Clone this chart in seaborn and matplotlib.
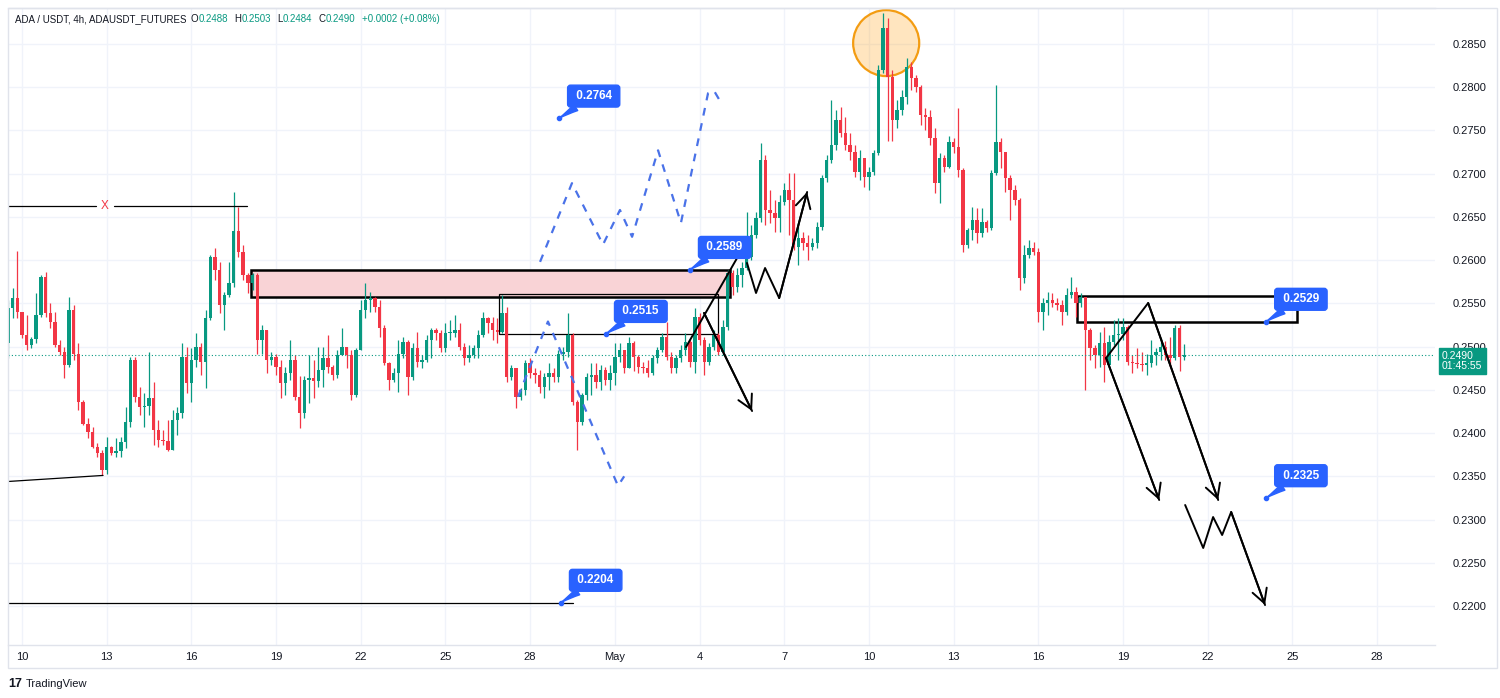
import numpy as np
import pandas as pd
import seaborn as sns
from matplotlib import pyplot as plt
from matplotlib.patches import Rectangle, Ellipse

sns.set_theme(style="white")
plt.rcParams["font.family"] = ["Liberation Sans", "DejaVu Sans"]

UP = "#089981"
DOWN = "#f23645"
BLUE = "#2962ff"
DASH_BLUE = "#4a72e8"
INK = "#131722"
GRID = "#f0f3fa"

# ADA/USDT 4h candles, Apr 9 12:00 -> May 21 00:00 (open = previous close)
first_open = 0.2504
close = [
    0.2545, 0.2556, 0.2540, 0.2513, 0.2502, 0.2509, 0.2536, 0.2580, 0.2539, 0.2528,
    0.2502, 0.2494, 0.2479, 0.2542, 0.2492, 0.2436, 0.2411, 0.2401, 0.2384, 0.2377,
    0.2357, 0.2384, 0.2377, 0.2379, 0.2390, 0.2413, 0.2484, 0.2442, 0.2430, 0.2431,
    0.2440, 0.2403, 0.2392, 0.2391, 0.2380, 0.2415, 0.2423, 0.2488, 0.2458, 0.2484,
    0.2499, 0.2482, 0.2533, 0.2604, 0.2589, 0.2548, 0.2560, 0.2573, 0.2634, 0.2609,
    0.2583, 0.2573, 0.2583, 0.2508, 0.2519, 0.2484, 0.2488, 0.2476, 0.2458, 0.2470,
    0.2484, 0.2442, 0.2423, 0.2461, 0.2464, 0.2460, 0.2473, 0.2487, 0.2476, 0.2467,
    0.2490, 0.2499, 0.2490, 0.2444, 0.2496, 0.2542, 0.2554, 0.2556, 0.2546, 0.2521,
    0.2481, 0.2461, 0.2470, 0.2492, 0.2505, 0.2465, 0.2498, 0.2482, 0.2484, 0.2508,
    0.2519, 0.2516, 0.2498, 0.2516, 0.2516, 0.2519, 0.2499, 0.2487, 0.2490, 0.2498,
    0.2513, 0.2533, 0.2527, 0.2519, 0.2517, 0.2539, 0.2465, 0.2475, 0.2442, 0.2450,
    0.2481, 0.2470, 0.2467, 0.2453, 0.2465, 0.2470, 0.2465, 0.2492, 0.2494, 0.2513,
    0.2436, 0.2413, 0.2444, 0.2465, 0.2467, 0.2459, 0.2473, 0.2461, 0.2470, 0.2488,
    0.2496, 0.2475, 0.2504, 0.2488, 0.2476, 0.2475, 0.2470, 0.2487, 0.2496, 0.2511,
    0.2488, 0.2475, 0.2487, 0.2496, 0.2505, 0.2482, 0.2534, 0.2508, 0.2482, 0.2499,
    0.2513, 0.2494, 0.2523, 0.2585, 0.2569, 0.2583, 0.2591, 0.2604, 0.2629, 0.2649,
    0.2716, 0.2658, 0.2654, 0.2649, 0.2667, 0.2681, 0.2669, 0.2615, 0.2626, 0.2620,
    0.2615, 0.2620, 0.2638, 0.2695, 0.2716, 0.2733, 0.2762, 0.2747, 0.2733, 0.2725,
    0.2702, 0.2718, 0.2696, 0.2702, 0.2724, 0.2820, 0.2868, 0.2812, 0.2762, 0.2774,
    0.2789, 0.2823, 0.2811, 0.2800, 0.2768, 0.2766, 0.2741, 0.2689, 0.2718, 0.2708,
    0.2737, 0.2731, 0.2704, 0.2617, 0.2635, 0.2646, 0.2631, 0.2644, 0.2637, 0.2701,
    0.2737, 0.2725, 0.2695, 0.2681, 0.2669, 0.2579, 0.2606, 0.2614, 0.2609, 0.2540,
    0.2550, 0.2554, 0.2551, 0.2548, 0.2540, 0.2560, 0.2563, 0.2550, 0.2557, 0.2519,
    0.2498, 0.2490, 0.2504, 0.2479, 0.2505, 0.2513, 0.2514, 0.2523, 0.2482, 0.2481,
    0.2480, 0.2479, 0.2481, 0.2490, 0.2494, 0.2499, 0.2490, 0.2487, 0.2521, 0.2488,
    0.2490,
]
high = [
    0.2554, 0.2568, 0.2610, 0.2540, 0.2536, 0.2511, 0.2562, 0.2583, 0.2586, 0.2550,
    0.2540, 0.2508, 0.2499, 0.2557, 0.2548, 0.2504, 0.2438, 0.2417, 0.2407, 0.2388,
    0.2380, 0.2395, 0.2385, 0.2394, 0.2395, 0.2430, 0.2488, 0.2488, 0.2453, 0.2446,
    0.2494, 0.2459, 0.2415, 0.2403, 0.2415, 0.2427, 0.2430, 0.2504, 0.2499, 0.2498,
    0.2516, 0.2504, 0.2542, 0.2606, 0.2614, 0.2598, 0.2563, 0.2598, 0.2679, 0.2661,
    0.2617, 0.2585, 0.2585, 0.2585, 0.2525, 0.2519, 0.2494, 0.2492, 0.2484, 0.2476,
    0.2508, 0.2490, 0.2466, 0.2466, 0.2490, 0.2484, 0.2499, 0.2499, 0.2513, 0.2479,
    0.2496, 0.2521, 0.2499, 0.2496, 0.2498, 0.2554, 0.2573, 0.2563, 0.2557, 0.2554,
    0.2525, 0.2482, 0.2475, 0.2508, 0.2511, 0.2508, 0.2504, 0.2517, 0.2490, 0.2513,
    0.2521, 0.2521, 0.2519, 0.2527, 0.2531, 0.2536, 0.2527, 0.2504, 0.2502, 0.2502,
    0.2519, 0.2540, 0.2534, 0.2534, 0.2533, 0.2560, 0.2546, 0.2479, 0.2475, 0.2452,
    0.2484, 0.2487, 0.2475, 0.2473, 0.2470, 0.2481, 0.2475, 0.2496, 0.2499, 0.2539,
    0.2516, 0.2438, 0.2446, 0.2469, 0.2481, 0.2481, 0.2479, 0.2476, 0.2479, 0.2504,
    0.2504, 0.2494, 0.2511, 0.2506, 0.2490, 0.2482, 0.2484, 0.2490, 0.2499, 0.2516,
    0.2528, 0.2494, 0.2490, 0.2502, 0.2516, 0.2508, 0.2545, 0.2539, 0.2511, 0.2504,
    0.2519, 0.2516, 0.2531, 0.2589, 0.2589, 0.2591, 0.2598, 0.2656, 0.2641, 0.2656,
    0.2735, 0.2722, 0.2681, 0.2669, 0.2675, 0.2689, 0.2701, 0.2701, 0.2643, 0.2632,
    0.2629, 0.2626, 0.2644, 0.2698, 0.2722, 0.2785, 0.2774, 0.2777, 0.2766, 0.2747,
    0.2733, 0.2727, 0.2712, 0.2708, 0.2727, 0.2826, 0.2886, 0.2880, 0.2820, 0.2785,
    0.2797, 0.2834, 0.2829, 0.2814, 0.2803, 0.2776, 0.2774, 0.2753, 0.2724, 0.2722,
    0.2744, 0.2741, 0.2776, 0.2707, 0.2637, 0.2661, 0.2660, 0.2660, 0.2646, 0.2704,
    0.2803, 0.2741, 0.2725, 0.2698, 0.2687, 0.2672, 0.2617, 0.2623, 0.2621, 0.2614,
    0.2556, 0.2563, 0.2562, 0.2556, 0.2554, 0.2568, 0.2580, 0.2569, 0.2562, 0.2557,
    0.2521, 0.2502, 0.2517, 0.2523, 0.2513, 0.2531, 0.2533, 0.2533, 0.2525, 0.2490,
    0.2498, 0.2494, 0.2492, 0.2508, 0.2498, 0.2510, 0.2506, 0.2511, 0.2525, 0.2525,
    0.2503,
]
low = [
    0.2487, 0.2533, 0.2533, 0.2510, 0.2496, 0.2498, 0.2504, 0.2534, 0.2534, 0.2521,
    0.2499, 0.2490, 0.2464, 0.2476, 0.2484, 0.2427, 0.2409, 0.2394, 0.2383, 0.2372,
    0.2351, 0.2353, 0.2375, 0.2372, 0.2372, 0.2383, 0.2407, 0.2436, 0.2421, 0.2407,
    0.2421, 0.2386, 0.2384, 0.2386, 0.2379, 0.2380, 0.2398, 0.2417, 0.2446, 0.2436,
    0.2476, 0.2467, 0.2452, 0.2531, 0.2577, 0.2539, 0.2519, 0.2557, 0.2569, 0.2604,
    0.2577, 0.2562, 0.2565, 0.2492, 0.2492, 0.2470, 0.2479, 0.2467, 0.2440, 0.2444,
    0.2461, 0.2438, 0.2406, 0.2417, 0.2435, 0.2440, 0.2453, 0.2453, 0.2469, 0.2461,
    0.2464, 0.2490, 0.2475, 0.2438, 0.2442, 0.2496, 0.2533, 0.2540, 0.2540, 0.2511,
    0.2479, 0.2450, 0.2459, 0.2447, 0.2487, 0.2444, 0.2461, 0.2476, 0.2475, 0.2482,
    0.2487, 0.2508, 0.2494, 0.2494, 0.2508, 0.2511, 0.2496, 0.2479, 0.2482, 0.2487,
    0.2487, 0.2511, 0.2516, 0.2508, 0.2504, 0.2516, 0.2459, 0.2461, 0.2429, 0.2438,
    0.2444, 0.2464, 0.2458, 0.2446, 0.2440, 0.2450, 0.2459, 0.2459, 0.2484, 0.2488,
    0.2432, 0.2380, 0.2409, 0.2438, 0.2444, 0.2452, 0.2450, 0.2456, 0.2450, 0.2456,
    0.2482, 0.2470, 0.2475, 0.2472, 0.2470, 0.2469, 0.2465, 0.2467, 0.2481, 0.2494,
    0.2484, 0.2470, 0.2470, 0.2482, 0.2490, 0.2476, 0.2470, 0.2502, 0.2467, 0.2479,
    0.2496, 0.2490, 0.2490, 0.2519, 0.2560, 0.2563, 0.2569, 0.2589, 0.2600, 0.2626,
    0.2644, 0.2641, 0.2643, 0.2632, 0.2632, 0.2664, 0.2629, 0.2612, 0.2594, 0.2612,
    0.2600, 0.2612, 0.2614, 0.2635, 0.2690, 0.2712, 0.2727, 0.2742, 0.2727, 0.2716,
    0.2696, 0.2693, 0.2685, 0.2681, 0.2698, 0.2722, 0.2817, 0.2738, 0.2738, 0.2753,
    0.2768, 0.2780, 0.2797, 0.2794, 0.2756, 0.2750, 0.2733, 0.2678, 0.2666, 0.2702,
    0.2707, 0.2724, 0.2696, 0.2609, 0.2614, 0.2623, 0.2620, 0.2627, 0.2632, 0.2635,
    0.2698, 0.2707, 0.2679, 0.2646, 0.2664, 0.2565, 0.2574, 0.2602, 0.2606, 0.2528,
    0.2519, 0.2537, 0.2546, 0.2542, 0.2525, 0.2537, 0.2556, 0.2534, 0.2546, 0.2450,
    0.2484, 0.2475, 0.2476, 0.2459, 0.2475, 0.2502, 0.2484, 0.2508, 0.2479, 0.2470,
    0.2475, 0.2472, 0.2467, 0.2476, 0.2479, 0.2484, 0.2484, 0.2476, 0.2484, 0.2472,
    0.2484,
]
last_price = 0.2490

# time axis
tick_dates = ["2025-04-10", "2025-04-13", "2025-04-16", "2025-04-19", "2025-04-22",
              "2025-04-25", "2025-04-28", "2025-05-01", "2025-05-04", "2025-05-07",
              "2025-05-10", "2025-05-13", "2025-05-16", "2025-05-19", "2025-05-22",
              "2025-05-25", "2025-05-28"]
tick_labels = ["10", "13", "16", "19", "22", "25", "28", "May", "4", "7",
               "10", "13", "16", "19", "22", "25", "28"]
price_ticks = [0.2200, 0.2250, 0.2300, 0.2350, 0.2400, 0.2450, 0.2500,
               0.2550, 0.2600, 0.2650, 0.2700, 0.2750, 0.2800, 0.2850]

# drawings (x in days after Apr 10, y in price)
x_level_days = [[-0.5, 2.62], [3.26, 7.97]]
x_level_price = 0.2663
x_mark_day = 2.94
low_line_days = [-0.5, 2.87]
low_line_prices = [0.2344, 0.2351]
level_2204_days = [-0.5, 19.52]
level_2204_price = 0.2204

pink_zone = (8.11, 25.08, 0.2557, 0.2589)
thin_box = (16.90, 24.65, 0.2515, 0.2561)
right_box = (37.37, 45.16, 0.2529, 0.25585)
peak_circle = (30.61, 0.2851, 2.34, 0.00763)

bull_path_days = [18.35, 19.48, 20.58, 21.18, 21.61, 22.53, 23.34, 24.30, 24.51, 24.69]
bull_path_prices = [0.2598, 0.2689, 0.2618, 0.2658, 0.2627, 0.2727, 0.2643, 0.2793, 0.2796, 0.2786]
bear_path_days = [17.57, 18.63, 21.11, 21.33]
bear_path_prices = [0.2442, 0.2529, 0.2339, 0.2350]

leg_up_days = [23.52, 25.33]
leg_up_prices = [0.24995, 0.26025]
arrow_down_mid_days = [24.16, 25.86]
arrow_down_mid_prices = [0.25389, 0.24255]
zigzag_mid_days = [25.68, 26.00, 26.32, 26.82, 27.81]
zigzag_mid_prices = [0.25967, 0.25620, 0.25909, 0.25562, 0.26788]
arrow_right_a_days = [38.40, 40.28]
arrow_right_a_prices = [0.24868, 0.23226]
arrow_right_b_days = [38.40, 39.89, 42.37]
arrow_right_b_prices = [0.24868, 0.25504, 0.23226]
zigzag_right_days = [41.20, 41.84, 42.19, 42.51, 42.83, 44.03]
zigzag_right_prices = [0.23168, 0.22671, 0.23029, 0.22821, 0.23087, 0.22011]

callout_labels = ["0.2764", "0.2589", "0.2515", "0.2529", "0.2325", "0.2204"]
callout_days = [19.02, 23.66, 20.69, 44.07, 44.07, 19.09]
callout_prices = [0.2764, 0.2589, 0.2515, 0.2529, 0.2325, 0.2204]

W, H = 1500, 698


def fpx(x, y):
    return x / W, 1 - y / H


fig = plt.figure(figsize=(W / 100, H / 100), dpi=100)
ax = fig.add_axes([8 / W, 53 / H, 1427 / W, 637 / H])

c = np.array(close)
o = np.r_[first_open, c[:-1]]
hi = np.array(high)
lo = np.array(low)
times = pd.date_range("2025-04-09 12:00", periods=len(c), freq="4h")
x = ((times - pd.Timestamp("2025-04-10")) / pd.Timedelta(days=1)).to_numpy()
colors = np.where(c >= o, UP, DOWN)

# zones behind candles
ax.add_patch(Rectangle((pink_zone[0], pink_zone[2]), pink_zone[1] - pink_zone[0],
                       pink_zone[3] - pink_zone[2], facecolor="#f9d3d6",
                       edgecolor="black", lw=1.8, zorder=2))
ax.add_patch(Rectangle((thin_box[0], thin_box[2]), thin_box[1] - thin_box[0],
                       thin_box[3] - thin_box[2], fill=False, edgecolor="black",
                       lw=0.9, zorder=2.5))
ax.add_patch(Rectangle((right_box[0], right_box[2]), right_box[1] - right_box[0],
                       right_box[3] - right_box[2], fill=False, edgecolor="black",
                       lw=1.8, zorder=2.5))
ax.add_patch(Ellipse((peak_circle[0], peak_circle[1]), peak_circle[2], peak_circle[3],
                     facecolor=(1.0, 0.6, 0.0, 0.25), edgecolor="#f39c12", lw=1.6,
                     zorder=2))

# candles
ax.vlines(x, lo, hi, colors=colors, lw=0.9, zorder=3)
body = np.maximum(np.abs(c - o), 0.00007)
ax.bar(x, body, bottom=np.minimum(o, c), width=0.12, color=colors, lw=0, zorder=4)

ax.axhline(last_price, color=UP, lw=0.8, ls=(0, (1, 2)), zorder=3)

# horizontal levels
for seg in x_level_days:
    ax.plot(seg, [x_level_price, x_level_price], color="black", lw=0.9, zorder=5)
ax.text(x_mark_day, x_level_price, "X", color=DOWN, fontsize=8.5, ha="center",
        va="center", zorder=6)
ax.plot(low_line_days, low_line_prices, color="black", lw=0.9, zorder=5)
ax.plot(level_2204_days, [level_2204_price] * 2, color="black", lw=0.9, zorder=5)

# projected paths
for dx, dy in [(bull_path_days, bull_path_prices), (bear_path_days, bear_path_prices)]:
    sns.lineplot(x=dx, y=dy, sort=False, estimator=None, ax=ax, color=DASH_BLUE,
                 lw=1.6, linestyle=(0, (3.5, 3.5)), zorder=5)

for dx, dy in [(leg_up_days, leg_up_prices), (arrow_down_mid_days, arrow_down_mid_prices),
               (zigzag_mid_days, zigzag_mid_prices), (arrow_right_a_days, arrow_right_a_prices),
               (arrow_right_b_days, arrow_right_b_prices), (zigzag_right_days, zigzag_right_prices)]:
    sns.lineplot(x=dx, y=dy, sort=False, estimator=None, ax=ax, color="black", lw=1.4, zorder=6)

for dx, dy in [(arrow_down_mid_days, arrow_down_mid_prices), (zigzag_mid_days, zigzag_mid_prices),
               (arrow_right_a_days, arrow_right_a_prices), (arrow_right_b_days, arrow_right_b_prices),
               (zigzag_right_days, zigzag_right_prices)]:
    ax.annotate("", xy=(dx[-1], dy[-1]), xytext=(dx[-2], dy[-2]),
                arrowprops=dict(arrowstyle="->,head_length=0.55,head_width=0.3",
                                color="black", lw=1.4, shrinkA=0, shrinkB=0,
                                mutation_scale=18), zorder=6)

# price callouts
for label, d, p in zip(callout_labels, callout_days, callout_prices):
    ax.plot(d, p, "o", ms=3, color=BLUE, zorder=7)
    ax.annotate(f" {label} ", xy=(d, p), xytext=(25, 16), textcoords="offset points",
                ha="center", va="center", color="white", fontsize=8.5, fontweight="bold",
                bbox=dict(boxstyle="round,pad=0.42,rounding_size=0.25", fc=BLUE, ec=BLUE),
                arrowprops=dict(arrowstyle="wedge,tail_width=0.6,shrink_factor=0.4",
                                fc=BLUE, ec=BLUE, shrinkA=0, shrinkB=0),
                zorder=8)

# axes styling
ax.set_xlim(-0.496, 50.05)
ax.set_ylim(0.21549, 0.28916)
ax.set_xticks([(pd.Timestamp(d) - pd.Timestamp("2025-04-10")) / pd.Timedelta(days=1)
               for d in tick_dates])
ax.set_xticklabels(tick_labels)
ax.set_yticks(price_ticks)
ax.set_yticklabels([f"{p:.4f}" for p in price_ticks])
ax.yaxis.tick_right()
ax.tick_params(axis="y", length=0, pad=13, labelsize=8, labelcolor=INK)
ax.tick_params(axis="x", length=0, pad=5, labelsize=8, labelcolor=INK)
ax.grid(True, color=GRID, lw=1)
ax.set_axisbelow(True)
for side in ["left", "right"]:
    ax.spines[side].set_visible(False)
for side in ["top", "bottom"]:
    ax.spines[side].set_color("#e0e3eb")
    ax.spines[side].set_linewidth(1)
ax.set_xlabel("")
ax.set_ylabel("")

# outer frame of the widget
fig.add_artist(Rectangle(fpx(8, 668), 1489 / W, 660 / H, transform=fig.transFigure,
                         fill=False, edgecolor="#e0e3eb", lw=1))

# last price tag
tx, ty = fpx(1442, 361)
fig.text(tx, ty, "0.2490\n01:45:55", color="white", fontsize=7.5, ha="left", va="center",
         linespacing=1.05, bbox=dict(boxstyle="square,pad=0.3", fc=UP, ec=UP))

# header legend, laid out left to right
header = [("ADA / USDT, 4h, ADAUSDT_FUTURES", INK, 4), ("O", INK, 0.5), ("0.2488", UP, 6),
          ("H", INK, 0.5), ("0.2503", UP, 6), ("L", INK, 0.5), ("0.2484", UP, 6),
          ("C", INK, 0.5), ("0.2490", UP, 6), ("+0.0002 (+0.08%)", UP, 0)]
renderer = fig.canvas.get_renderer()
cursor = 15
for txt, col, gap in header:
    t = fig.text(*fpx(cursor, 19), txt, color=col, fontsize=7, ha="left", va="center")
    cursor = t.get_window_extent(renderer).x1 + gap

# footer logo
fig.text(*fpx(8, 684), "17", color=INK, fontsize=9, fontweight="heavy", ha="left", va="center")
fig.text(*fpx(26, 684), "TradingView", color=INK, fontsize=8, ha="left", va="center")

fig.savefig("out.png", dpi=100, facecolor="white")
